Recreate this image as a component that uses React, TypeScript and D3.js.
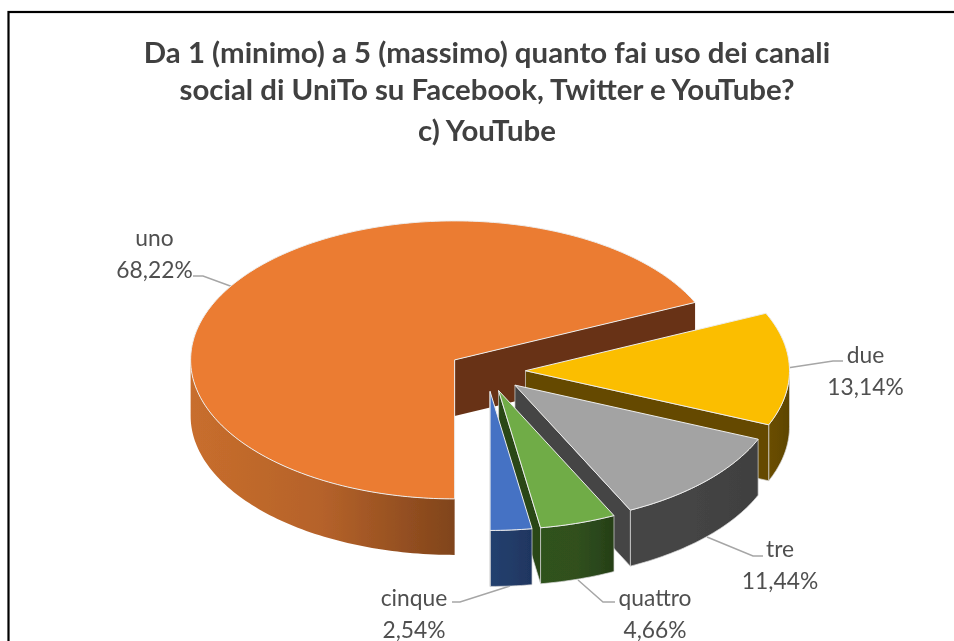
import React from "react";
import * as d3 from "d3";

const categories = ["uno", "due", "tre", "quattro", "cinque"];
const values = [68.22, 13.14, 11.44, 4.66, 2.54];
const valueLabels = ["68,22%", "13,14%", "11,44%", "4,66%", "2,54%"];
const topColors = ["#EB7C31", "#FBBE00", "#A3A3A3", "#6FAC47", "#4472C4"];
const wallColorStops = [
  ["#C86E2D", "#B5622A", "#80441B"],
  ["#6A4E00", "#654A00", "#5C4400"],
  ["#444444", "#444444", "#404040"],
  ["#2F521C", "#30501F", "#263F17"],
  ["#24406F", "#223C68", "#1F3560"],
];
const endFaceColors = ["#673315", "#654A00", "#444444", "#2A4719", "#203864"];
const titleLines = [
  "Da 1 (minimo) a 5 (massimo) quanto fai uso dei canali",
  "social di UniTo su Facebook, Twitter e YouTube?",
  "c) YouTube",
];
const titleBaselines = [63, 100, 141];
const labelAnchors: [number, number][] = [
  [154.5, 246], [865.5, 362.5], [780, 556.5], [655, 606], [414, 606],
];
const leaders: [number, number][][] = [
  [[193, 276], [203, 276], [233, 287]],
  [[843, 361], [833, 361], [787, 368]],
  [[763, 556], [753, 556], [707, 537]],
  [[615, 602], [603, 602], [578, 580]],
  [[452, 602], [460, 602], [510, 586]],
];

const W = 954, H = 641;
const cx = 487, cy = 371, rx = 264, ry = 139, depth = 56, explodeX = 38.5, explodeY = 20.5;
const pieLayout = d3.pie<number>().sort(null).startAngle(Math.PI).endAngle(3 * Math.PI);
const slices = pieLayout(values);
const lineGen = d3.line<[number, number]>();
const px = (a: number) => Math.sin(a);
const py = (a: number) => -Math.cos(a);

function sampled(a0: number, a1: number): number[] {
  const n = Math.max(2, Math.ceil(Math.abs(a1 - a0) / 0.02));
  return d3.range(n + 1).map((i) => a0 + ((a1 - a0) * i) / n);
}

export default function App() {
  const faces = slices.map((s, i) => {
    const mid = (s.startAngle + s.endAngle) / 2;
    const ax = cx + explodeX * px(mid);
    const ay = cy + explodeY * py(mid);
    const pt = (a: number, dy = 0): [number, number] => [ax + rx * px(a), ay + ry * py(a) + dy];
    const top = lineGen([[ax, ay], ...sampled(s.startAngle, s.endAngle).map((a) => pt(a))]) + "Z";
    const end = pt(s.endAngle);
    const endFace = lineGen([[ax, ay], end, [end[0], end[1] + depth], [ax, ay + depth]]) + "Z";
    // the outer wall shows only on the front half of the rim (one window per turn)
    const turn = s.startAngle >= 2 * Math.PI ? 2 * Math.PI : 0;
    const w0 = Math.max(s.startAngle, Math.PI / 2 + turn);
    const w1 = Math.min(s.endAngle, (3 * Math.PI) / 2 + turn);
    const ring = sampled(w0, w1);
    const wall = lineGen([...ring.map((a) => pt(a)), ...ring.slice().reverse().map((a) => pt(a, depth))]) + "Z";
    const xs = ring.map((a) => pt(a)[0]);
    return { top, endFace, wall, x0: d3.min(xs)!, x1: d3.max(xs)!, i };
  });

  return (
    <svg width={W} height={H} viewBox={`0 0 ${W} ${H}`} style={{ position: "absolute", left: 0, top: 0, background: "#fff" }}>
      <defs>
        {faces.map((f) => (
          <linearGradient key={f.i} id={`wall${f.i}`} gradientUnits="userSpaceOnUse" x1={f.x0} x2={f.x1} y1={0} y2={0}>
            {wallColorStops[f.i].map((c, k) => (
              <stop key={k} offset={k / 2} stopColor={c} />
            ))}
          </linearGradient>
        ))}
        <filter id="soft" x="0" y="0" width="100%" height="100%">
          <feGaussianBlur stdDeviation="0.45" />
        </filter>
      </defs>
      <rect x={8.5} y={12} width={980} height={700} fill="#fff" stroke="#000" strokeWidth={2.2} />
      <g filter="url(#soft)">
        {titleLines.map((t, i) => (
          <text key={i} x={487} y={titleBaselines[i]} textAnchor="middle" fontFamily="Lato" fontWeight={700} fontSize={29.4} fill="#404040">{t}</text>
        ))}
        {leaders.map((l, i) => (
          <path key={i} d={lineGen(l)!} fill="none" stroke="#A6A6A6" strokeWidth={1.5} />
        ))}
        {faces.map((f) => (
          <g key={f.i} strokeLinejoin="round">
            <path d={f.wall} fill={`url(#wall${f.i})`} stroke={f.i === 0 ? "none" : "#D8D8D8"} strokeOpacity={0.7} strokeWidth={1} />
            <path d={f.endFace} fill={endFaceColors[f.i]} stroke={f.i === 0 ? "none" : "#D8D8D8"} strokeOpacity={0.7} strokeWidth={1} />
            <path d={f.top} fill={topColors[f.i]} stroke="#EDEDED" strokeWidth={1} />
          </g>
        ))}
        {categories.map((c, i) => (
          <text key={c} fontFamily="Lato" fontSize={22.8} fill="#505050" textAnchor="middle">
            <tspan x={labelAnchors[i][0]} y={labelAnchors[i][1]}>{c}</tspan>
            <tspan x={labelAnchors[i][0]} y={labelAnchors[i][1] + 32}>{valueLabels[i]}</tspan>
          </text>
        ))}
      </g>
    </svg>
  );
}
